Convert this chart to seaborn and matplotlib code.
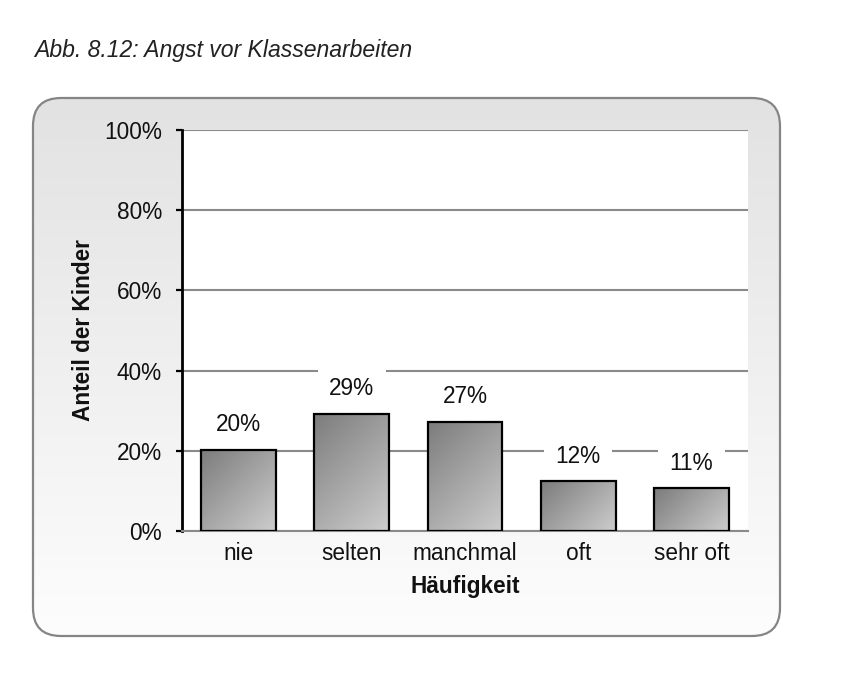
import numpy as np
import pandas as pd
import matplotlib
matplotlib.use("Agg")
import matplotlib.pyplot as plt
import seaborn as sns
from matplotlib.patches import FancyBboxPatch
from matplotlib.colors import LinearSegmentedColormap

# ---- data ----
categories = ["nie", "selten", "manchmal", "oft", "sehr oft"]
values = [20.2, 29.2, 27.3, 12.4, 10.6]
value_labels = ["20%", "29%", "27%", "12%", "11%"]
yticks = [0, 20, 40, 60, 80, 100]
ytick_labels = ["0%", "20%", "40%", "60%", "80%", "100%"]
title = "Abb. 8.12: Angst vor Klassenarbeiten"
xlabel = "Häufigkeit"
ylabel = "Anteil der Kinder"

sns.set_theme(style="white")
plt.rcParams["font.family"] = ["Liberation Sans", "DejaVu Sans"]

W, H = 851, 687
fig = plt.figure(figsize=(W / 100, H / 100), dpi=100)
fig.patch.set_facecolor("white")

# ---- background rounded box with vertical gradient ----
bg = fig.add_axes([0, 0, 1, 1], zorder=0)
bg.set_xlim(0, W)
bg.set_ylim(H, 0)
bg.axis("off")
bx0, by0, bx1, by1 = 33, 98, 780, 636
box = FancyBboxPatch((bx0, by0), bx1 - bx0, by1 - by0,
                     boxstyle="round,pad=0,rounding_size=28",
                     facecolor="none", edgecolor="#858585", linewidth=1.6, zorder=3)
bg.add_patch(box)
bg_cmap = LinearSegmentedColormap.from_list("bg", ["#e2e2e2", "#fdfdfd"])
grad = np.linspace(0, 1, 256).reshape(-1, 1)
im = bg.imshow(grad, cmap=bg_cmap, extent=(bx0, bx1, by1, by0), origin="upper",
               aspect="auto", zorder=1)
im.set_clip_path(box)
bg.set_xlim(0, W)
bg.set_ylim(H, 0)

# ---- main axes ----
ax = fig.add_axes([182 / W, (H - 531) / H, 566 / W, 401 / H], zorder=1)
ax.set_facecolor("white")

df = pd.DataFrame({"cat": categories, "val": values})
sns.barplot(data=df, x="cat", y="val", ax=ax, width=0.66, color="#a0a0a0",
            edgecolor="black", linewidth=1.6, zorder=3)

bar_cmap = LinearSegmentedColormap.from_list("bar", ["#7c7c7c", "#cdcdcd"])
n = 120
xx, yy = np.meshgrid(np.linspace(0, 1, n), np.linspace(0, 1, n))
for p in ax.patches:
    x0, y0, w, h = p.get_x(), p.get_y(), p.get_width(), p.get_height()
    hp = h * 4.01
    wp = w * 113.2
    t = (xx * wp + yy * hp) / (wp + hp)
    ax.imshow(t, cmap=bar_cmap, vmin=0, vmax=1,
              extent=(x0, x0 + w, y0, y0 + h), origin="upper",
              aspect="auto", zorder=2.5)
    p.set_facecolor("none")

for i, (v, lab) in enumerate(zip(values, value_labels)):
    ax.annotate(lab, xy=(i, v), xytext=(0, 18), textcoords="offset points",
                ha="center", va="center", fontsize=16.3, color="#111111",
                bbox=dict(boxstyle="square,pad=0.5", fc="white", ec="none"),
                zorder=5)

ax.set_xlim(-0.5, 4.5)
ax.set_ylim(0, 100)
ax.set_yticks(yticks)
ax.set_yticklabels(ytick_labels)
ax.yaxis.grid(True, color="#8a8a8a", linewidth=1.5)
ax.set_axisbelow(True)

for s in ["top", "right"]:
    ax.spines[s].set_visible(False)
ax.spines["left"].set_color("black")
ax.spines["left"].set_linewidth(2.0)
ax.spines["bottom"].set_color("#8a8a8a")
ax.spines["bottom"].set_linewidth(1.5)

ax.tick_params(axis="y", direction="out", length=4.5, width=1.6, color="black",
               pad=10, labelsize=16.3, labelcolor="#111111", left=True)
ax.tick_params(axis="x", length=0, pad=8, labelsize=16.3, labelcolor="#111111")

ax.set_xlabel(xlabel, fontsize=16.3, fontweight="bold", color="#111111")
ax.set_ylabel(ylabel, fontsize=16.3, fontweight="bold", color="#111111")
ax.xaxis.label.set_va("center")
ax.yaxis.label.set_va("center")
ax.yaxis.label.set_ha("center")
ax.xaxis.set_label_coords(0.5, (531 - 587) / 401)
ax.yaxis.set_label_coords((83 - 182) / 566, 0.5)

fig.text(34 / W, 1 - 50 / H, title, style="italic", fontsize=16.6,
         ha="left", va="center", color="#222222")

fig.savefig("out.png", dpi=100)
